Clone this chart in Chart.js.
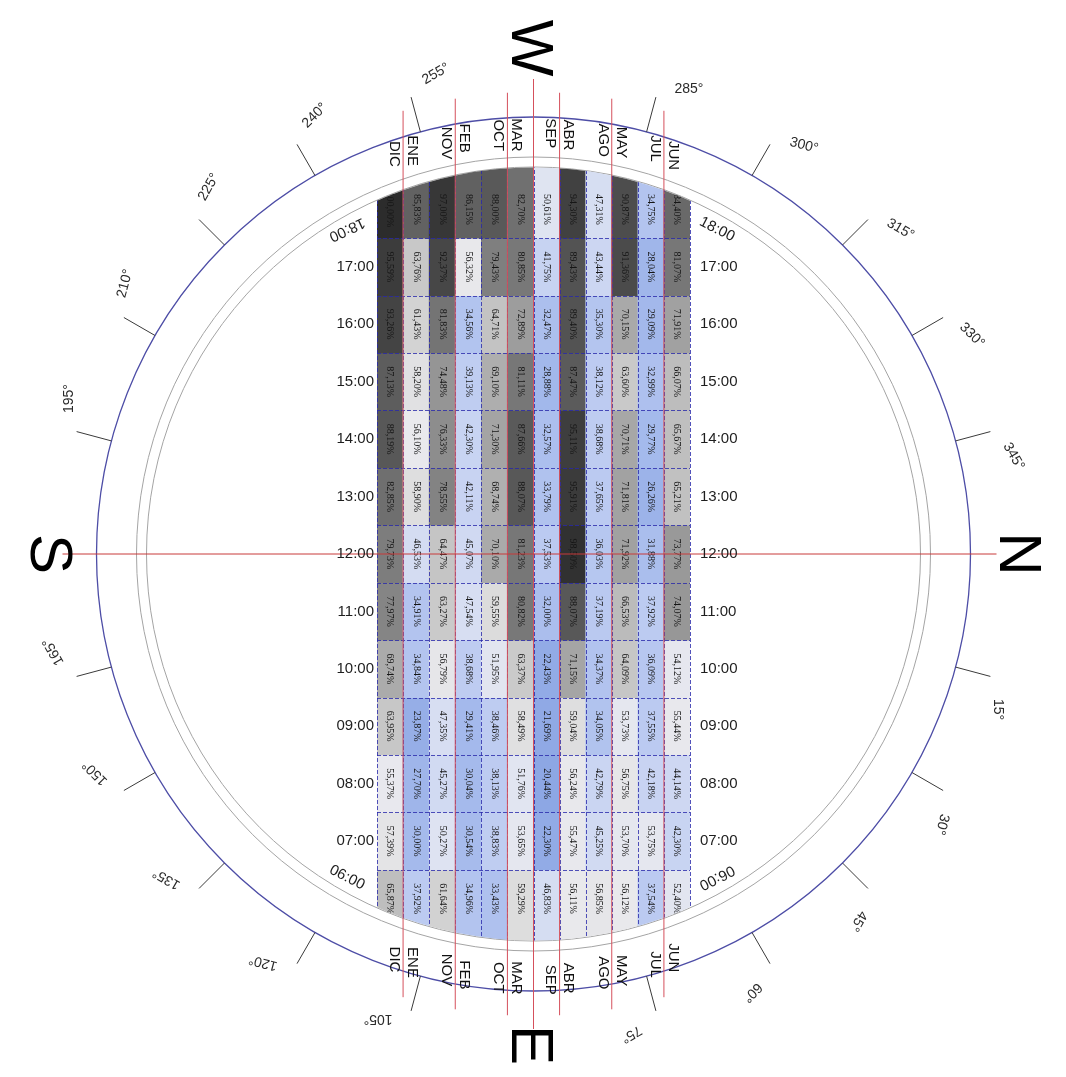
<!DOCTYPE html>
<html>
<head>
<meta charset="utf-8">
<script src="https://cdn.jsdelivr.net/npm/chart.js@4/dist/chart.umd.min.js"></script>
<style>
  html, body { margin: 0; padding: 0; background: #ffffff; overflow: hidden; }
  canvas { display: block; }
</style>
</head>
<body>
<canvas id="sun" width="1066" height="1077"></canvas>
<script>
// Azimuth bands of the sun path grid (12 columns, west on top, east at the bottom)
const COLUMNS = ['B1', 'B2', 'B3', 'B4', 'B5', 'B6', 'B7', 'B8', 'B9', 'B10', 'B11', 'B12'];

// Hour rows, top to bottom
const HOURS = [18, 17, 16, 15, 14, 13, 12, 11, 10, 9, 8, 7, 6];
const HOUR_LABELS = ['18:00', '17:00', '16:00', '15:00', '14:00', '13:00', '12:00',
                     '11:00', '10:00', '09:00', '08:00', '07:00', '06:00'];

// Percentage per cell, one array per hour
const H18 = [100.00, 85.83, 97.00, 86.15, 88.00, 82.70, 50.61, 94.30, 47.31, 90.87, 34.75, 84.40];
const H17 = [95.59, 63.76, 92.37, 56.32, 79.43, 80.85, 41.75, 89.43, 43.44, 91.36, 28.04, 81.07];
const H16 = [93.26, 61.43, 81.83, 34.56, 64.71, 72.89, 32.47, 89.40, 35.30, 70.15, 29.09, 71.91];
const H15 = [87.13, 58.20, 74.48, 39.13, 69.10, 81.11, 28.88, 87.47, 38.12, 63.60, 32.99, 66.07];
const H14 = [88.19, 56.10, 76.33, 42.30, 71.30, 87.66, 32.57, 95.11, 38.68, 70.71, 29.77, 65.67];
const H13 = [82.85, 58.90, 78.55, 42.11, 68.74, 88.07, 33.79, 95.91, 37.65, 71.81, 26.26, 65.21];
const H12 = [79.73, 46.53, 64.47, 45.07, 70.10, 81.23, 37.53, 98.50, 36.03, 71.92, 31.88, 73.77];
const H11 = [77.97, 34.91, 63.27, 47.54, 59.55, 80.82, 32.00, 88.07, 37.19, 66.53, 37.92, 74.07];
const H10 = [69.74, 34.84, 56.79, 38.68, 51.95, 63.37, 22.43, 71.15, 34.37, 64.09, 36.09, 54.12];
const H09 = [63.95, 23.87, 47.35, 29.41, 38.46, 58.49, 21.69, 59.04, 34.05, 53.73, 37.55, 55.44];
const H08 = [55.37, 27.70, 45.27, 30.04, 38.13, 51.76, 20.44, 56.24, 42.79, 56.75, 42.18, 44.14];
const H07 = [57.39, 30.00, 50.27, 30.54, 38.83, 53.65, 22.30, 55.47, 45.25, 53.70, 53.75, 42.30];
const H06 = [65.87, 37.92, 61.64, 34.96, 33.43, 59.29, 46.83, 56.11, 56.85, 56.12, 37.54, 52.40];
const ROWS = [H18, H17, H16, H15, H14, H13, H12, H11, H10, H09, H08, H07, H06];

// Month pairs written on both sides of each sun-path line (column boundary index)
const MONTH_LINES = [1, 3, 5, 7, 9, 11];
const MONTH_LEFT  = ['DIC', 'NOV', 'OCT', 'SEP', 'AGO', 'JUL'];
const MONTH_RIGHT = ['ENE', 'FEB', 'MAR', 'ABR', 'MAY', 'JUN'];
const RED_LINES = [1, 3, 5, 6, 7, 9, 11];

// Compass ring
const DEGREES = [15, 30, 45, 60, 75, 105, 120, 135, 150, 165, 195, 210, 225, 240, 255, 285, 300, 315, 330, 345];
const CARDINALS = [
  { text: 'N', angle: 0,   dist: 488 },
  { text: 'E', angle: 90,  dist: 491 },
  { text: 'S', angle: 180, dist: 481 },
  { text: 'W', angle: 270, dist: 506 }
];

// Ring geometry (pixels)
const R_OUT = 437, R_RING_A = 397, R_RING_B = 387, R_CELLS = 386.5;
const R_TICK_END = 473, R_DEG_LABEL = 490, R_RED = 462, R_RED_MID = 475;

// Colour scale: blue below ~55 %, grey getting darker above
const COLOR_STOPS = [
  [20, [140, 166, 228]], [30, [165, 186, 236]], [40, [194, 207, 242]],
  [50, [222, 227, 242]], [56, [233, 233, 237]], [60, [218, 218, 218]],
  [70, [170, 170, 170]], [80, [124, 124, 124]], [90, [80, 80, 80]], [100, [44, 44, 44]]
];
function cellColor(v) {
  if (v <= COLOR_STOPS[0][0]) return 'rgb(' + COLOR_STOPS[0][1].join(',') + ')';
  for (let i = 1; i < COLOR_STOPS.length; i++) {
    const [v1, c1] = COLOR_STOPS[i];
    const [v0, c0] = COLOR_STOPS[i - 1];
    if (v <= v1) {
      const t = (v - v0) / (v1 - v0);
      const c = c0.map((a, k) => Math.round(a + (c1[k] - a) * t));
      return 'rgb(' + c.join(',') + ')';
    }
  }
  return 'rgb(' + COLOR_STOPS[COLOR_STOPS.length - 1][1].join(',') + ')';
}
const fmtPct = v => v.toFixed(2).replace('.', ',') + '%';

// Each row is a floating bar band one hour tall; the outer rows run on to the ring edge
const datasets = HOURS.map((h, i) => ({
  label: HOUR_LABELS[i],
  data: ROWS[i].map(() => [h === 6 ? 5 : h - 0.5, h === 18 ? 19 : h + 0.5]),
  backgroundColor: ROWS[i].map(cellColor),
  borderWidth: 0,
  categoryPercentage: 1,
  barPercentage: 1,
  grouped: false
}));

const rad = d => d * Math.PI / 180;

function geom(chart) {
  const x = chart.scales.x, y = chart.scales.y;
  return {
    x, y,
    cx: (chart.chartArea.left + chart.chartArea.right) / 2,
    cy: y.getPixelForValue(12),
    bx: k => x.getPixelForValue(k - 0.5)
  };
}

const compass = {
  id: 'compass',
  beforeDatasetsDraw(chart) {
    const ctx = chart.ctx;
    const g = geom(chart);
    ctx.save();
    // inner grey rings
    ctx.strokeStyle = '#a4a4a4';
    ctx.lineWidth = 1;
    [R_RING_A, R_RING_B].forEach(r => {
      ctx.beginPath(); ctx.arc(g.cx, g.cy, r, 0, 2 * Math.PI); ctx.stroke();
    });
    // outer ring
    ctx.strokeStyle = '#4d4da6';
    ctx.lineWidth = 1.3;
    ctx.beginPath(); ctx.arc(g.cx, g.cy, R_OUT, 0, 2 * Math.PI); ctx.stroke();
    // degree ticks and labels
    ctx.strokeStyle = '#3a3a3a';
    ctx.lineWidth = 1;
    ctx.fillStyle = '#2a2a2a';
    ctx.font = '14px "Liberation Sans", Arial, sans-serif';
    ctx.textAlign = 'center';
    ctx.textBaseline = 'middle';
    DEGREES.forEach(d => {
      const a = rad(d);
      ctx.beginPath();
      ctx.moveTo(g.cx + R_OUT * Math.cos(a), g.cy + R_OUT * Math.sin(a));
      ctx.lineTo(g.cx + R_TICK_END * Math.cos(a), g.cy + R_TICK_END * Math.sin(a));
      ctx.stroke();
      const la = rad(d + 3.5);
      ctx.save();
      ctx.translate(g.cx + R_DEG_LABEL * Math.cos(la), g.cy + R_DEG_LABEL * Math.sin(la));
      ctx.rotate(rad(d + 75));
      ctx.fillText(d + '°', 0, 0);
      ctx.restore();
    });
    ctx.restore();
    // cells are clipped to the inner disc
    ctx.save();
    ctx.beginPath();
    ctx.arc(g.cx, g.cy, R_CELLS, 0, 2 * Math.PI);
    ctx.clip();
  },
  afterDatasetsDraw(chart) {
    const ctx = chart.ctx;
    const g = geom(chart);
    const top = g.y.getPixelForValue(19), bottom = g.y.getPixelForValue(5);
    const left = g.bx(0), right = g.bx(COLUMNS.length);

    // dashed cell borders
    ctx.strokeStyle = 'rgba(40, 40, 170, 0.8)';
    ctx.lineWidth = 1;
    ctx.setLineDash([4, 2]);
    for (let k = 0; k <= COLUMNS.length; k++) {
      const px = Math.round(g.bx(k)) + 0.5;
      ctx.beginPath(); ctx.moveTo(px, top); ctx.lineTo(px, bottom); ctx.stroke();
    }
    for (let i = 1; i < HOURS.length; i++) {
      const py = Math.round(g.y.getPixelForValue(HOURS[i] + 0.5)) + 0.5;
      ctx.beginPath(); ctx.moveTo(left, py); ctx.lineTo(right, py); ctx.stroke();
    }
    ctx.setLineDash([]);

    // cell percentages
    ctx.fillStyle = '#161616';
    ctx.font = '10px "Liberation Serif", "Times New Roman", serif';
    ctx.textAlign = 'center';
    ctx.textBaseline = 'middle';
    HOURS.forEach((h, i) => {
      const meta = chart.getDatasetMeta(i);
      const py = g.y.getPixelForValue(h);
      meta.data.forEach((el, j) => {
        ctx.save();
        ctx.translate(el.x, py);
        ctx.rotate(Math.PI / 2);
        ctx.fillText(fmtPct(ROWS[i][j]), 0, 0);
        ctx.restore();
      });
    });
    ctx.restore(); // end of disc clip

    ctx.save();
    // sun-path lines
    ctx.strokeStyle = '#d5505c';
    ctx.lineWidth = 1;
    RED_LINES.forEach(k => {
      const px = g.bx(k);
      const dx = px - g.cx;
      const r = k === 6 ? R_RED_MID : R_RED;
      const half = Math.sqrt(r * r - dx * dx);
      ctx.beginPath(); ctx.moveTo(px, g.cy - half); ctx.lineTo(px, g.cy + half); ctx.stroke();
    });
    ctx.strokeStyle = '#c83a3a';
    ctx.beginPath(); ctx.moveTo(g.cx - 471, g.cy); ctx.lineTo(g.cx + 463, g.cy); ctx.stroke();

    // month names, top and bottom
    ctx.fillStyle = '#111111';
    ctx.font = '15px "Liberation Sans", Arial, sans-serif';
    ctx.textBaseline = 'middle';
    MONTH_LINES.forEach((k, m) => {
      const lx = g.bx(k);
      [[MONTH_LEFT[m], lx - 9], [MONTH_RIGHT[m], lx + 9]].forEach(([txt, px]) => {
        const dx = px - g.cx;
        const yTop = g.cy - Math.sqrt(436 * 436 - dx * dx);
        const yBot = g.cy + Math.sqrt(441 * 441 - dx * dx);
        ctx.save();
        ctx.translate(px, yTop); ctx.rotate(Math.PI / 2);
        ctx.textAlign = 'left'; ctx.fillText(txt, 0, 0);
        ctx.restore();
        ctx.save();
        ctx.translate(px, yBot); ctx.rotate(Math.PI / 2);
        ctx.textAlign = 'right'; ctx.fillText(txt, 0, 0);
        ctx.restore();
      });
    });

    // hour labels on both sides of the grid
    ctx.fillStyle = '#1e1e1e';
    ctx.font = '15px "Liberation Sans", Arial, sans-serif';
    HOURS.forEach((h, i) => {
      const py = g.y.getPixelForValue(h);
      const txt = HOUR_LABELS[i];
      if (h === 18 || h === 6) {
        const dy = h === 18 ? 20 : -21;
        const rotL = h === 18 ? 155 : 27;
        const rotR = h === 18 ? 27 : 153;
        ctx.textAlign = 'center';
        ctx.save();
        ctx.translate(left - 30, py + dy); ctx.rotate(rad(rotL));
        ctx.fillText(txt, 0, 0);
        ctx.restore();
        ctx.save();
        ctx.translate(right + 27, py + dy); ctx.rotate(rad(rotR));
        ctx.fillText(txt, 0, 0);
        ctx.restore();
      } else {
        ctx.textAlign = 'right';
        ctx.fillText(txt, left - 3, py);
        ctx.textAlign = 'left';
        ctx.fillText(txt, right + 10, py);
      }
    });

    // cardinal points
    ctx.fillStyle = '#000000';
    ctx.font = '60px "Liberation Sans", Arial, sans-serif';
    ctx.textAlign = 'center';
    ctx.textBaseline = 'alphabetic';
    CARDINALS.forEach(c => {
      const a = rad(c.angle);
      ctx.save();
      ctx.translate(g.cx + c.dist * Math.cos(a), g.cy + c.dist * Math.sin(a));
      ctx.rotate(Math.PI / 2);
      ctx.fillText(c.text, 0, 60 * 0.716 / 2);
      ctx.restore();
    });
    ctx.restore();
  }
};

new Chart(document.getElementById('sun'), {
  type: 'bar',
  data: { labels: COLUMNS, datasets },
  options: {
    responsive: false,
    devicePixelRatio: 1,
    animation: false,
    events: [],
    layout: { padding: { left: 377, right: 376, top: 152, bottom: 121 } },
    scales: {
      x: { type: 'category', display: false, offset: true },
      y: { type: 'linear', display: false, min: 5, max: 19 }
    },
    plugins: { legend: { display: false }, tooltip: { enabled: false } }
  },
  plugins: [compass]
});
</script>
</body>
</html>
